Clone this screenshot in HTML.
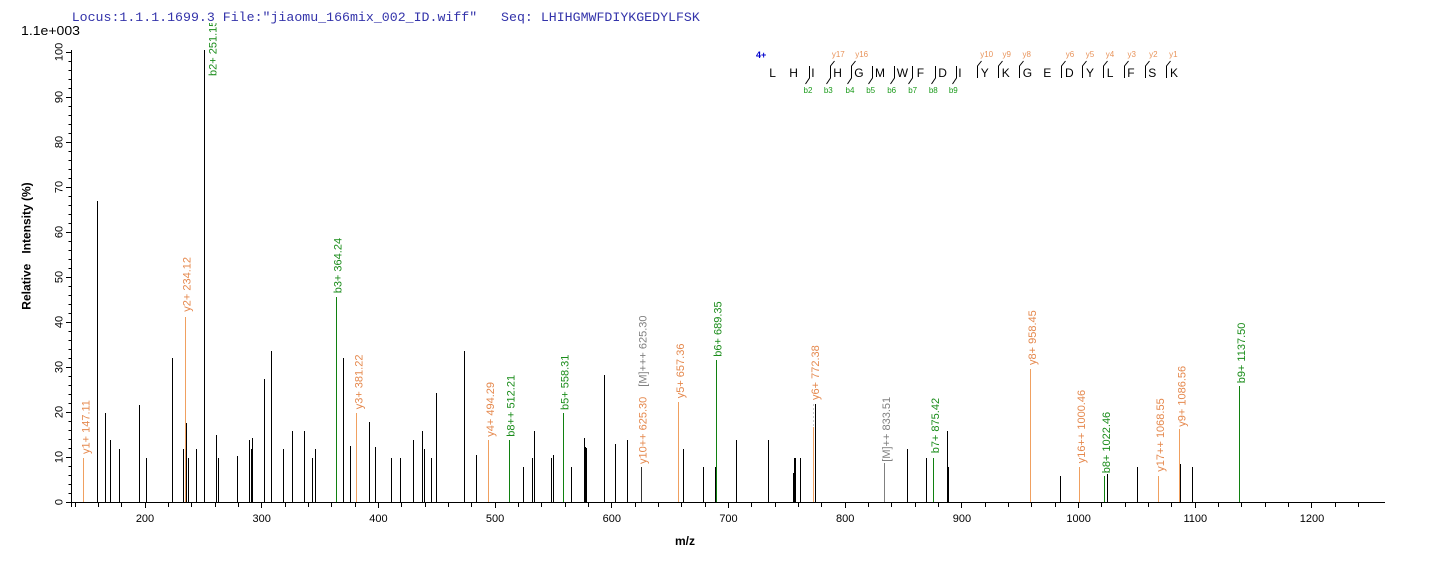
<!DOCTYPE html>
<html>
<head>
<meta charset="utf-8">
<style>
html,body{margin:0;padding:0;background:#fff;}
svg{display:block;}
text{font-family:"Liberation Sans",Arial,sans-serif;}
</style>
</head>
<body>
<svg width="1436" height="562" viewBox="0 0 1436 562" xmlns="http://www.w3.org/2000/svg">
<rect width="1436" height="562" fill="#fff"/>

<!-- peaks -->
<g stroke="#000" stroke-width="1" shape-rendering="crispEdges">
<line x1="97.5" y1="502" x2="97.5" y2="201"/>
<line x1="105.5" y1="502" x2="105.5" y2="413"/>
<line x1="110.5" y1="502" x2="110.5" y2="440"/>
<line x1="119.5" y1="502" x2="119.5" y2="449"/>
<line x1="139.5" y1="502" x2="139.5" y2="405"/>
<line x1="146.5" y1="502" x2="146.5" y2="458"/>
<line x1="172.5" y1="502" x2="172.5" y2="358"/>
<line x1="183.5" y1="502" x2="183.5" y2="449"/>
<line x1="186.5" y1="502" x2="186.5" y2="423"/>
<line x1="188.5" y1="502" x2="188.5" y2="458"/>
<line x1="196.5" y1="502" x2="196.5" y2="449"/>
<line x1="204.5" y1="502" x2="204.5" y2="50"/>
<line x1="216.5" y1="502" x2="216.5" y2="435"/>
<line x1="218.5" y1="502" x2="218.5" y2="458"/>
<line x1="237.5" y1="502" x2="237.5" y2="456"/>
<line x1="249.5" y1="502" x2="249.5" y2="440"/>
<line x1="251.5" y1="502" x2="251.5" y2="449"/>
<line x1="252.5" y1="502" x2="252.5" y2="438"/>
<line x1="264.5" y1="502" x2="264.5" y2="379"/>
<line x1="271.5" y1="502" x2="271.5" y2="351"/>
<line x1="283.5" y1="502" x2="283.5" y2="449"/>
<line x1="292.5" y1="502" x2="292.5" y2="431"/>
<line x1="304.5" y1="502" x2="304.5" y2="431"/>
<line x1="312.5" y1="502" x2="312.5" y2="458"/>
<line x1="315.5" y1="502" x2="315.5" y2="449"/>
<line x1="343.5" y1="502" x2="343.5" y2="358"/>
<line x1="350.5" y1="502" x2="350.5" y2="446"/>
<line x1="369.5" y1="502" x2="369.5" y2="422"/>
<line x1="375.5" y1="502" x2="375.5" y2="447"/>
<line x1="391.5" y1="502" x2="391.5" y2="458"/>
<line x1="400.5" y1="502" x2="400.5" y2="458"/>
<line x1="413.5" y1="502" x2="413.5" y2="440"/>
<line x1="422.5" y1="502" x2="422.5" y2="431"/>
<line x1="424.5" y1="502" x2="424.5" y2="449"/>
<line x1="431.5" y1="502" x2="431.5" y2="458"/>
<line x1="436.5" y1="502" x2="436.5" y2="393"/>
<line x1="464.5" y1="502" x2="464.5" y2="351"/>
<line x1="476.5" y1="502" x2="476.5" y2="455"/>
<line x1="523.5" y1="502" x2="523.5" y2="467"/>
<line x1="532.5" y1="502" x2="532.5" y2="458"/>
<line x1="534.5" y1="502" x2="534.5" y2="431"/>
<line x1="551.5" y1="502" x2="551.5" y2="458"/>
<line x1="553.5" y1="502" x2="553.5" y2="455"/>
<line x1="571.5" y1="502" x2="571.5" y2="467"/>
<line x1="584.5" y1="502" x2="584.5" y2="438"/>
<line x1="585.5" y1="502" x2="585.5" y2="447"/>
<line x1="586.5" y1="502" x2="586.5" y2="448"/>
<line x1="604.5" y1="502" x2="604.5" y2="375"/>
<line x1="615.5" y1="502" x2="615.5" y2="444"/>
<line x1="627.5" y1="502" x2="627.5" y2="440"/>
<line x1="641.5" y1="502" x2="641.5" y2="467" stroke="#333"/>
<line x1="683.5" y1="502" x2="683.5" y2="449"/>
<line x1="703.5" y1="502" x2="703.5" y2="467"/>
<line x1="715.5" y1="502" x2="715.5" y2="467"/>
<line x1="736.5" y1="502" x2="736.5" y2="440"/>
<line x1="768.5" y1="502" x2="768.5" y2="440"/>
<line x1="793.5" y1="502" x2="793.5" y2="473"/>
<line x1="794.5" y1="502" x2="794.5" y2="458"/>
<line x1="795.5" y1="502" x2="795.5" y2="458"/>
<line x1="800.5" y1="502" x2="800.5" y2="458"/>
<line x1="815.5" y1="502" x2="815.5" y2="404"/>
<line x1="907.5" y1="502" x2="907.5" y2="449"/>
<line x1="926.5" y1="502" x2="926.5" y2="458"/>
<line x1="947.5" y1="502" x2="947.5" y2="431"/>
<line x1="948.5" y1="502" x2="948.5" y2="467"/>
<line x1="1060.5" y1="502" x2="1060.5" y2="476"/>
<line x1="1107.5" y1="502" x2="1107.5" y2="474"/>
<line x1="1137.5" y1="502" x2="1137.5" y2="467"/>
<line x1="1180.5" y1="502" x2="1180.5" y2="464"/>
<line x1="1192.5" y1="502" x2="1192.5" y2="467"/>
</g>

<!-- orange (y ions) -->
<g stroke="#F0A060" stroke-width="1" shape-rendering="crispEdges">
<line x1="83.5" y1="502" x2="83.5" y2="458"/>
<line x1="185.5" y1="502" x2="185.5" y2="317"/>
<line x1="356.5" y1="502" x2="356.5" y2="413"/>
<line x1="488.5" y1="502" x2="488.5" y2="440"/>
<line x1="678.5" y1="502" x2="678.5" y2="402"/>
<line x1="813.5" y1="502" x2="813.5" y2="427"/>
<line x1="1030.5" y1="502" x2="1030.5" y2="369"/>
<line x1="1079.5" y1="502" x2="1079.5" y2="467"/>
<line x1="1158.5" y1="502" x2="1158.5" y2="476"/>
<line x1="1179.5" y1="502" x2="1179.5" y2="429"/>
</g>
<line x1="813.5" y1="426" x2="813.5" y2="404" stroke="#c8c8c8" stroke-width="1" stroke-dasharray="2,2" shape-rendering="crispEdges"/>

<!-- green (b ions) -->
<g stroke="#108010" stroke-width="1" shape-rendering="crispEdges">
<line x1="336.5" y1="502" x2="336.5" y2="297"/>
<line x1="509.5" y1="502" x2="509.5" y2="440"/>
<line x1="563.5" y1="502" x2="563.5" y2="413"/>
<line x1="716.5" y1="502" x2="716.5" y2="360"/>
<line x1="933.5" y1="502" x2="933.5" y2="458"/>
<line x1="1104.5" y1="502" x2="1104.5" y2="476"/>
<line x1="1239.5" y1="502" x2="1239.5" y2="386"/>
</g>
<!-- gray -->
<line x1="884.5" y1="502" x2="884.5" y2="463" stroke="#808080" stroke-width="1" shape-rendering="crispEdges"/>

<!-- peak labels -->
<g font-size="11">
<text transform="translate(89.5,454) rotate(-90)" fill="#E5894E">y1+ 147.11</text>
<text transform="translate(190.7,311.7) rotate(-90)" fill="#E5894E">y2+ 234.12</text>
<text transform="translate(216.7,76) rotate(-90)" fill="#1A8C1A">b2+ 251.15</text>
<text transform="translate(341.5,293.3) rotate(-90)" fill="#1A8C1A">b3+ 364.24</text>
<text transform="translate(362.3,409.3) rotate(-90)" fill="#E5894E">y3+ 381.22</text>
<text transform="translate(494,436.7) rotate(-90)" fill="#E5894E">y4+ 494.29</text>
<text transform="translate(514.7,436.7) rotate(-90)" fill="#1A8C1A">b8++ 512.21</text>
<text transform="translate(568.5,410) rotate(-90)" fill="#1A8C1A">b5+ 558.31</text>
<text transform="translate(646.7,464) rotate(-90)" fill="#E5894E">y10++ 625.30</text>
<text transform="translate(646.7,386.7) rotate(-90)" fill="#808080">[M]+++ 625.30</text>
<text transform="translate(684,398.3) rotate(-90)" fill="#E5894E">y5+ 657.36</text>
<text transform="translate(721.7,356.7) rotate(-90)" fill="#1A8C1A">b6+ 689.35</text>
<text transform="translate(819,400) rotate(-90)" fill="#E5894E">y6+ 772.38</text>
<text transform="translate(890,461.7) rotate(-90)" fill="#808080">[M]++ 833.51</text>
<text transform="translate(939,453.3) rotate(-90)" fill="#1A8C1A">b7+ 875.42</text>
<text transform="translate(1036,365) rotate(-90)" fill="#E5894E">y8+ 958.45</text>
<text transform="translate(1085,463.3) rotate(-90)" fill="#E5894E">y16++ 1000.46</text>
<text transform="translate(1110,473.3) rotate(-90)" fill="#1A8C1A">b8+ 1022.46</text>
<text transform="translate(1164,471.7) rotate(-90)" fill="#E5894E">y17++ 1068.55</text>
<text transform="translate(1185.3,426.7) rotate(-90)" fill="#E5894E">y9+ 1086.56</text>
<text transform="translate(1245,383.3) rotate(-90)" fill="#1A8C1A">b9+ 1137.50</text>
</g>

<!-- axes -->
<g stroke="#000" stroke-width="1" shape-rendering="crispEdges">
<line x1="71.5" y1="50" x2="71.5" y2="507"/>
<line x1="71" y1="502.5" x2="1385" y2="502.5"/>
</g>
<!-- y ticks -->
<g stroke="#000" stroke-width="1" shape-rendering="crispEdges" id="yt">
<line x1="66" y1="502.5" x2="71" y2="502.5"/>
<line x1="68.5" y1="493.5" x2="71" y2="493.5"/>
<line x1="68.5" y1="484.5" x2="71" y2="484.5"/>
<line x1="68.5" y1="475.5" x2="71" y2="475.5"/>
<line x1="68.5" y1="466.5" x2="71" y2="466.5"/>
<line x1="66" y1="457.5" x2="71" y2="457.5"/>
<line x1="68.5" y1="448.5" x2="71" y2="448.5"/>
<line x1="68.5" y1="439.5" x2="71" y2="439.5"/>
<line x1="68.5" y1="430.5" x2="71" y2="430.5"/>
<line x1="68.5" y1="421.5" x2="71" y2="421.5"/>
<line x1="66" y1="412.5" x2="71" y2="412.5"/>
<line x1="68.5" y1="403.5" x2="71" y2="403.5"/>
<line x1="68.5" y1="394.5" x2="71" y2="394.5"/>
<line x1="68.5" y1="385.5" x2="71" y2="385.5"/>
<line x1="68.5" y1="376.5" x2="71" y2="376.5"/>
<line x1="66" y1="367.5" x2="71" y2="367.5"/>
<line x1="68.5" y1="358.5" x2="71" y2="358.5"/>
<line x1="68.5" y1="349.5" x2="71" y2="349.5"/>
<line x1="68.5" y1="340.5" x2="71" y2="340.5"/>
<line x1="68.5" y1="331.5" x2="71" y2="331.5"/>
<line x1="66" y1="322.5" x2="71" y2="322.5"/>
<line x1="68.5" y1="313.5" x2="71" y2="313.5"/>
<line x1="68.5" y1="304.5" x2="71" y2="304.5"/>
<line x1="68.5" y1="295.5" x2="71" y2="295.5"/>
<line x1="68.5" y1="286.5" x2="71" y2="286.5"/>
<line x1="66" y1="277.5" x2="71" y2="277.5"/>
<line x1="68.5" y1="268.5" x2="71" y2="268.5"/>
<line x1="68.5" y1="259.5" x2="71" y2="259.5"/>
<line x1="68.5" y1="250.5" x2="71" y2="250.5"/>
<line x1="68.5" y1="241.5" x2="71" y2="241.5"/>
<line x1="66" y1="232.5" x2="71" y2="232.5"/>
<line x1="68.5" y1="223.5" x2="71" y2="223.5"/>
<line x1="68.5" y1="214.5" x2="71" y2="214.5"/>
<line x1="68.5" y1="205.5" x2="71" y2="205.5"/>
<line x1="68.5" y1="196.5" x2="71" y2="196.5"/>
<line x1="66" y1="187.5" x2="71" y2="187.5"/>
<line x1="68.5" y1="178.5" x2="71" y2="178.5"/>
<line x1="68.5" y1="169.5" x2="71" y2="169.5"/>
<line x1="68.5" y1="160.5" x2="71" y2="160.5"/>
<line x1="68.5" y1="151.5" x2="71" y2="151.5"/>
<line x1="66" y1="142.5" x2="71" y2="142.5"/>
<line x1="68.5" y1="133.5" x2="71" y2="133.5"/>
<line x1="68.5" y1="124.5" x2="71" y2="124.5"/>
<line x1="68.5" y1="115.5" x2="71" y2="115.5"/>
<line x1="68.5" y1="106.5" x2="71" y2="106.5"/>
<line x1="66" y1="97.5" x2="71" y2="97.5"/>
<line x1="68.5" y1="88.5" x2="71" y2="88.5"/>
<line x1="68.5" y1="79.5" x2="71" y2="79.5"/>
<line x1="68.5" y1="70.5" x2="71" y2="70.5"/>
<line x1="68.5" y1="61.5" x2="71" y2="61.5"/>
<line x1="66" y1="52.5" x2="71" y2="52.5"/>
</g>
<!-- y tick labels -->
<g font-size="11" fill="#000" text-anchor="middle">
<text transform="translate(62.5,502) rotate(-90)">0</text>
<text transform="translate(62.5,457) rotate(-90)">10</text>
<text transform="translate(62.5,412) rotate(-90)">20</text>
<text transform="translate(62.5,367) rotate(-90)">30</text>
<text transform="translate(62.5,322) rotate(-90)">40</text>
<text transform="translate(62.5,277) rotate(-90)">50</text>
<text transform="translate(62.5,232) rotate(-90)">60</text>
<text transform="translate(62.5,187) rotate(-90)">70</text>
<text transform="translate(62.5,142) rotate(-90)">80</text>
<text transform="translate(62.5,97) rotate(-90)">90</text>
<text transform="translate(62.5,52) rotate(-90)">100</text>
</g>

<!-- x ticks: x = -88.4 + 1.167*m, every 20 from 140 to 1240 -->
<g stroke="#000" stroke-width="1" shape-rendering="crispEdges">
<line x1="75.5" y1="502" x2="75.5" y2="507"/>
<line x1="98.5" y1="502" x2="98.5" y2="507"/>
<line x1="121.5" y1="502" x2="121.5" y2="507"/>
<line x1="145.5" y1="502" x2="145.5" y2="508"/>
<line x1="168.5" y1="502" x2="168.5" y2="507"/>
<line x1="191.5" y1="502" x2="191.5" y2="507"/>
<line x1="215.5" y1="502" x2="215.5" y2="507"/>
<line x1="238.5" y1="502" x2="238.5" y2="507"/>
<line x1="261.5" y1="502" x2="261.5" y2="508"/>
<line x1="285.5" y1="502" x2="285.5" y2="507"/>
<line x1="308.5" y1="502" x2="308.5" y2="507"/>
<line x1="331.5" y1="502" x2="331.5" y2="507"/>
<line x1="355.5" y1="502" x2="355.5" y2="507"/>
<line x1="378.5" y1="502" x2="378.5" y2="508"/>
<line x1="401.5" y1="502" x2="401.5" y2="507"/>
<line x1="425.5" y1="502" x2="425.5" y2="507"/>
<line x1="448.5" y1="502" x2="448.5" y2="507"/>
<line x1="471.5" y1="502" x2="471.5" y2="507"/>
<line x1="495.5" y1="502" x2="495.5" y2="508"/>
<line x1="518.5" y1="502" x2="518.5" y2="507"/>
<line x1="541.5" y1="502" x2="541.5" y2="507"/>
<line x1="565.5" y1="502" x2="565.5" y2="507"/>
<line x1="588.5" y1="502" x2="588.5" y2="507"/>
<line x1="611.5" y1="502" x2="611.5" y2="508"/>
<line x1="635.5" y1="502" x2="635.5" y2="507"/>
<line x1="658.5" y1="502" x2="658.5" y2="507"/>
<line x1="681.5" y1="502" x2="681.5" y2="507"/>
<line x1="705.5" y1="502" x2="705.5" y2="507"/>
<line x1="728.5" y1="502" x2="728.5" y2="508"/>
<line x1="751.5" y1="502" x2="751.5" y2="507"/>
<line x1="775.5" y1="502" x2="775.5" y2="507"/>
<line x1="798.5" y1="502" x2="798.5" y2="507"/>
<line x1="821.5" y1="502" x2="821.5" y2="507"/>
<line x1="845.5" y1="502" x2="845.5" y2="508"/>
<line x1="868.5" y1="502" x2="868.5" y2="507"/>
<line x1="891.5" y1="502" x2="891.5" y2="507"/>
<line x1="915.5" y1="502" x2="915.5" y2="507"/>
<line x1="938.5" y1="502" x2="938.5" y2="507"/>
<line x1="961.5" y1="502" x2="961.5" y2="508"/>
<line x1="985.5" y1="502" x2="985.5" y2="507"/>
<line x1="1008.5" y1="502" x2="1008.5" y2="507"/>
<line x1="1031.5" y1="502" x2="1031.5" y2="507"/>
<line x1="1055.5" y1="502" x2="1055.5" y2="507"/>
<line x1="1078.5" y1="502" x2="1078.5" y2="508"/>
<line x1="1101.5" y1="502" x2="1101.5" y2="507"/>
<line x1="1125.5" y1="502" x2="1125.5" y2="507"/>
<line x1="1148.5" y1="502" x2="1148.5" y2="507"/>
<line x1="1171.5" y1="502" x2="1171.5" y2="507"/>
<line x1="1195.5" y1="502" x2="1195.5" y2="508"/>
<line x1="1218.5" y1="502" x2="1218.5" y2="507"/>
<line x1="1241.5" y1="502" x2="1241.5" y2="507"/>
<line x1="1265.5" y1="502" x2="1265.5" y2="507"/>
<line x1="1288.5" y1="502" x2="1288.5" y2="507"/>
<line x1="1311.5" y1="502" x2="1311.5" y2="508"/>
<line x1="1335.5" y1="502" x2="1335.5" y2="507"/>
<line x1="1358.5" y1="502" x2="1358.5" y2="507"/>
</g>
<g font-size="11" fill="#000" text-anchor="middle">
<text x="145" y="522">200</text>
<text x="261.7" y="522">300</text>
<text x="378.4" y="522">400</text>
<text x="495.1" y="522">500</text>
<text x="611.8" y="522">600</text>
<text x="728.5" y="522">700</text>
<text x="845.2" y="522">800</text>
<text x="961.9" y="522">900</text>
<text x="1078.6" y="522">1000</text>
<text x="1195.3" y="522">1100</text>
<text x="1312" y="522">1200</text>
</g>

<!-- axis titles -->
<text x="685" y="545" font-size="12" font-weight="bold" text-anchor="middle">m/z</text>
<text transform="translate(30.5,246) rotate(-90)" font-size="12" font-weight="bold" text-anchor="middle" xml:space="preserve">Relative   Intensity (%)</text>

<!-- scale -->
<text x="21" y="35" font-size="13" textLength="59" lengthAdjust="spacingAndGlyphs">1.1e+003</text>

<!-- header -->
<rect x="70" y="9" width="410" height="14" fill="#fff"/>
<text x="71.7" y="21" font-family="'Liberation Mono','Courier New',monospace" font-size="13.25" fill="#3333AA" xml:space="preserve" style="font-family:'Liberation Mono','Courier New',monospace">Locus:1.1.1.1699.3 File:"jiaomu_166mix_002_ID.wiff"   Seq: LHIHGMWFDIYKGEDYLFSK</text>

<!-- sequence annotation -->
<text x="756" y="58" font-size="9" font-weight="bold" fill="#0000CC">4+</text>
<g font-size="12" fill="#000">
<text x="769.3" y="77">L</text>
<text x="789.3" y="77">H</text>
<text x="811.3" y="77">I</text>
<text x="833.3" y="77">H</text>
<text x="854.3" y="77">G</text>
<text x="875" y="77">M</text>
<text x="896.7" y="77">W</text>
<text x="916.7" y="77">F</text>
<text x="938.3" y="77">D</text>
<text x="958.3" y="77">I</text>
<text x="980.7" y="77">Y</text>
<text x="1001.7" y="77">K</text>
<text x="1022.7" y="77">G</text>
<text x="1043.3" y="77">E</text>
<text x="1065" y="77">D</text>
<text x="1086" y="77">Y</text>
<text x="1106.7" y="77">L</text>
<text x="1127.3" y="77">F</text>
<text x="1148.3" y="77">S</text>
<text x="1170" y="77">K</text>
</g>
<!-- b brackets -->
<g stroke="#000" stroke-width="1" fill="none">
<polyline points="809.5,66 809.5,78 805.5,84"/>
<polyline points="830.5,66 830.5,78 826.5,84"/>
<polyline points="851.5,66 851.5,78 847.5,84"/>
<polyline points="872.5,66 872.5,78 868.5,84"/>
<polyline points="894.5,66 894.5,78 890.5,84"/>
<polyline points="912.5,66 912.5,78 908.5,84"/>
<polyline points="935.5,66 935.5,78 931.5,84"/>
<polyline points="956.5,66 956.5,78 952.5,84"/>
<!-- y brackets -->
<polyline points="834.5,61 830.5,66 830.5,78"/>
<polyline points="855.5,61 851.5,66 851.5,78"/>
<polyline points="981.5,61 977.5,66 977.5,78"/>
<polyline points="1002.5,61 998.5,66 998.5,78"/>
<polyline points="1023.5,61 1019.5,66 1019.5,78"/>
<polyline points="1065.5,61 1061.5,66 1061.5,78"/>
<polyline points="1086.5,61 1082.5,66 1082.5,78"/>
<polyline points="1107.5,61 1103.5,66 1103.5,78"/>
<polyline points="1128.5,61 1124.5,66 1124.5,78"/>
<polyline points="1149.5,61 1145.5,66 1145.5,78"/>
<polyline points="1170.5,61 1166.5,66 1166.5,78"/>
</g>
<g font-size="8" fill="#1A9A1A" text-anchor="middle">
<text x="808" y="93">b2</text>
<text x="828.3" y="93">b3</text>
<text x="850" y="93">b4</text>
<text x="870.7" y="93">b5</text>
<text x="891.7" y="93">b6</text>
<text x="912.7" y="93">b7</text>
<text x="933.3" y="93">b8</text>
<text x="953.3" y="93">b9</text>
</g>
<g font-size="8" fill="#E8935A" text-anchor="middle">
<text x="838.3" y="57">y17</text>
<text x="861.7" y="57">y16</text>
<text x="986.7" y="57">y10</text>
<text x="1006.7" y="57">y9</text>
<text x="1026.7" y="57">y8</text>
<text x="1070" y="57">y6</text>
<text x="1090" y="57">y5</text>
<text x="1110" y="57">y4</text>
<text x="1131.7" y="57">y3</text>
<text x="1153.3" y="57">y2</text>
<text x="1173.3" y="57">y1</text>
</g>
</svg>
</body>
</html>
